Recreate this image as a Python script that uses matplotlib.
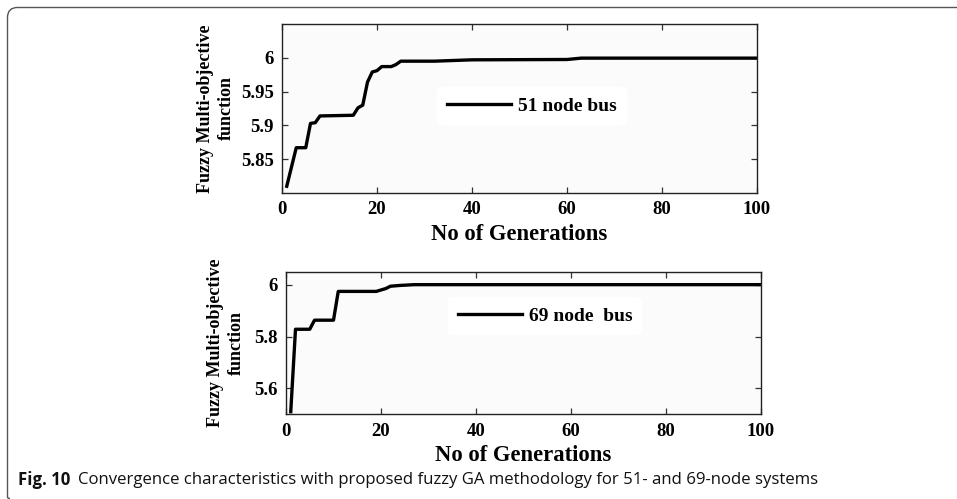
import matplotlib
matplotlib.use("Agg")
import matplotlib.pyplot as plt
from matplotlib.path import Path
from matplotlib.patches import PathPatch

# ---- data ----
gen_51 = [1, 3, 5, 6, 7, 8, 15, 16, 17, 18, 19, 20, 21, 23, 24, 25, 32, 40, 60, 63, 100]
fit_51 = [5.810, 5.867, 5.867, 5.903, 5.904, 5.914, 5.915, 5.926, 5.930, 5.964,
          5.979, 5.981, 5.987, 5.987, 5.990, 5.995, 5.995, 5.997, 5.9975, 5.9995, 5.9995]

gen_69 = [1, 2, 5, 6, 10, 11, 19, 21, 22, 24, 27, 100]
fit_69 = [5.51, 5.828, 5.828, 5.863, 5.863, 5.974, 5.974, 5.985, 5.994, 5.997, 6.0, 6.0]

xticks = [0, 20, 40, 60, 80, 100]
yticks_51 = [5.85, 5.9, 5.95, 6.0]
yticklabels_51 = ["5.85", "5.9", "5.95", "6"]
yticks_69 = [5.6, 5.8, 6.0]
yticklabels_69 = ["5.6", "5.8", "6"]

label_51 = "51 node bus"
label_69 = "69 node  bus"
xlabel = "No of Generations"
ylabel = "Fuzzy Multi-objective\nfunction"
caption_bold = "Fig. 10"
caption_rest = "Convergence characteristics with proposed fuzzy GA methodology for 51- and 69-node systems"

W, H = 957, 499
fig = plt.figure(figsize=(W / 100, H / 100), dpi=100)
fig.patch.set_facecolor("white")

serif = "Liberation Serif"

def style_axes(ax, yt, ytl, ylim, ylabelpad):
    ax.set_facecolor("#fbfbfb")
    ax.set_xlim(0, 100)
    ax.set_ylim(*ylim)
    ax.set_xticks(xticks)
    ax.set_xticklabels([str(t) for t in xticks], fontfamily=serif, fontweight="bold", fontsize=13.5)
    ax.set_yticks(yt)
    ax.set_yticklabels(ytl, fontfamily=serif, fontweight="bold", fontsize=13.5)
    ax.tick_params(direction="in", length=4, width=0.9, top=True, right=True, color="#333333", pad=6)
    for s in ax.spines.values():
        s.set_color("#222222")
        s.set_linewidth(1.0)
    ax.set_xlabel(xlabel, fontfamily=serif, fontweight="bold", fontsize=16.3, labelpad=4)
    ax.set_ylabel(ylabel, fontfamily=serif, fontweight="bold", fontsize=13,
                  labelpad=ylabelpad, linespacing=1.3)

ax1 = fig.add_axes([282 / W, 1 - 193 / H, 475 / W, 169 / H])
ax1.plot(gen_51, fit_51, color="black", lw=2.4, label=label_51, solid_joinstyle="round")
style_axes(ax1, yticks_51, yticklabels_51, (5.80, 6.05), 4)
leg1 = ax1.legend(loc="center", bbox_to_anchor=((532 - 282) / 475, (193 - 106) / 169),
                  prop={"family": serif, "weight": "bold", "size": 14},
                  frameon=True, handlelength=3.3, handletextpad=0.35, borderpad=0.5)
leg1.get_frame().set_edgecolor("none")
leg1.get_frame().set_facecolor("white")
leg1.get_frame().set_alpha(1)

ax2 = fig.add_axes([286 / W, 1 - 414.3 / H, 475 / W, 142.6 / H])
ax2.plot(gen_69, fit_69, color="black", lw=2.4, label=label_69, solid_joinstyle="round")
style_axes(ax2, yticks_69, yticklabels_69, (5.50, 6.05), 7)
leg2 = ax2.legend(loc="center", bbox_to_anchor=((545 - 286) / 475, (414.3 - 316) / 142.6),
                  prop={"family": serif, "weight": "bold", "size": 14},
                  frameon=True, handlelength=3.3, handletextpad=0.35, borderpad=0.5)
leg2.get_frame().set_edgecolor("none")
leg2.get_frame().set_facecolor("white")
leg2.get_frame().set_alpha(1)

# frame around figure (rounded top-left corner)
r = 10
verts = [(W, H - 7.5), (7.5 + r, H - 7.5), (7.5, H - 7.5), (7.5, H - 7.5 - r), (7.5, 2), (7.5, 0.5), (10, 0.5)]
codes = [Path.MOVETO, Path.LINETO, Path.CURVE3, Path.CURVE3, Path.LINETO, Path.CURVE3, Path.CURVE3]
pp = PathPatch(Path([(x / W, y / H) for x, y in verts], codes), transform=fig.transFigure,
               fill=False, edgecolor="#555555", lw=1.0)
fig.add_artist(pp)

# caption
t1 = fig.text(18 / W, 1 - 480 / H, caption_bold, fontfamily="Open Sans", fontweight="bold",
              fontsize=12.1, va="center", ha="left", color="#111111")
fig.canvas.draw()
bb = t1.get_window_extent()
fig.text((bb.x1 + 8) / W, 1 - 480 / H, caption_rest, fontfamily="Open Sans",
         fontsize=12.1, va="center", ha="left", color="#111111")

fig.savefig("out.png", dpi=100)
